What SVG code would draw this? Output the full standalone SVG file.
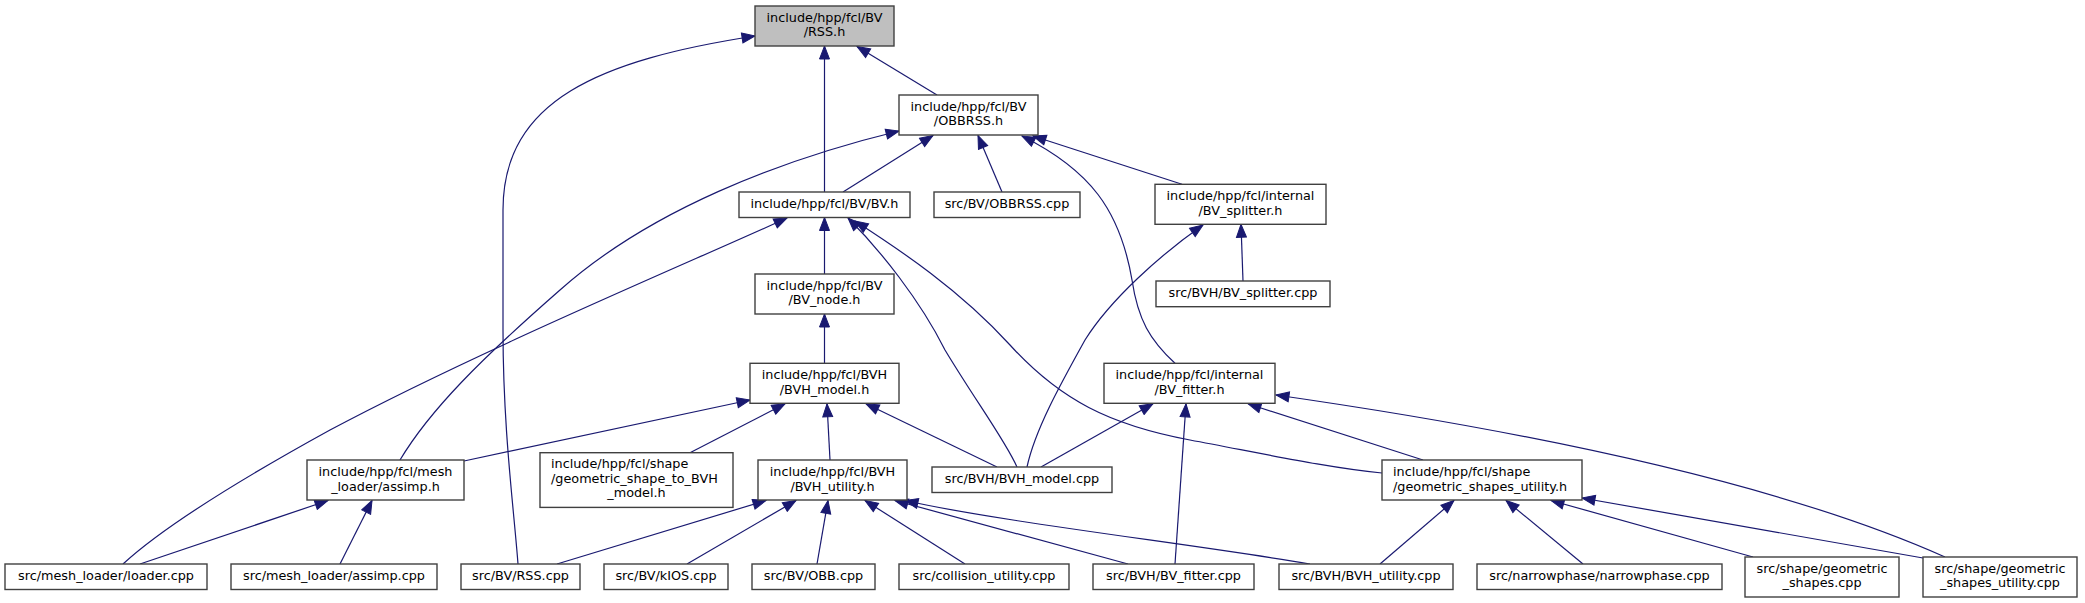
<svg xmlns="http://www.w3.org/2000/svg" width="2085" height="603" viewBox="0 0 2085 603">
<style>
rect{fill:#fff;stroke:#404040;stroke-width:1.4}
.root rect{fill:#bfbfbf}
text{font-family:"DejaVu Sans","Liberation Sans",sans-serif;font-size:12.8px;fill:#000}
.c{text-anchor:middle}
#edges path{fill:none;stroke:#191970;stroke-width:1.2;marker-start:url(#ah)}
</style>
<defs>
<marker id="ah" markerUnits="userSpaceOnUse" viewBox="-14 -6 15 12" markerWidth="15" markerHeight="12" refX="0" refY="0" orient="auto-start-reverse">
<path d="M-13,-5 L0,0 L-13,5 z" fill="#191970" stroke="#191970" stroke-width="1"/>
</marker>
</defs>
<rect x="0" y="0" width="2085" height="603" style="fill:#fff;stroke:none"/>
<g id="edges">
<path d="M755,36 C600,60 503,100 503,210 L503,330 C503,430 514,510 518,564"/>
<path d="M824.5,46 L824.5,192"/>
<path d="M857,46.5 L937,95"/>
<path d="M933,135.5 L843,192"/>
<path d="M978,135.5 L1002,192"/>
<path d="M899,131 C780,160 650,210 560,290 C480,360 430,410 400,460"/>
<path d="M1033,136 L1182,184.3"/>
<path d="M1022,136 C1090,170 1120,210 1132,280 C1138,320 1150,340 1175,363.3"/>
<path d="M824.5,217.5 L824.5,274"/>
<path d="M787,218 C700,258 480,350 330,430 C230,485 160,530 123,564"/>
<path d="M848,218 C880,250 920,300 945,350 C975,400 1005,440 1017,467"/>
<path d="M855,221 C900,250 960,290 1010,345 C1060,400 1110,425 1190,440 C1270,455 1330,468 1382,473"/>
<path d="M824.5,314 L824.5,363.3"/>
<path d="M1241,224.3 L1243,281"/>
<path d="M1203,225 C1160,255 1110,300 1085,340 C1060,385 1035,430 1027,467"/>
<path d="M750,400 L464,461"/>
<path d="M785,403.8 L690,452.7"/>
<path d="M827,403.8 L830,460"/>
<path d="M866,403.8 L997,467"/>
<path d="M1153,403.8 L1041,467"/>
<path d="M1186,403.8 L1175,564"/>
<path d="M1248,403.8 L1423,460"/>
<path d="M1276,395 C1450,420 1750,470 1945,557"/>
<path d="M766,500.5 L557,564"/>
<path d="M796,500.5 L687,564"/>
<path d="M828,500.5 L817,564"/>
<path d="M865,500.5 L965,564"/>
<path d="M895,500.5 L1128,564"/>
<path d="M905,500.5 C1000,522 1200,545 1310,564"/>
<path d="M1454,500.5 L1380,564"/>
<path d="M1506,500.5 L1583,564"/>
<path d="M1551,500.5 L1753,557"/>
<path d="M1582,498 L1923,558"/>
<path d="M328,500.5 L140,564"/>
<path d="M372,500.5 L340,564"/>
</g>
<g id="n_rss_h" class="root"><rect x="755" y="6" width="139" height="40"/><text class="c" x="824.5" y="21.7">include/hpp/fcl/BV</text><text class="c" x="824.5" y="36.3">/RSS.h</text></g>
<g id="n_obbrss_h"><rect x="899" y="95" width="139" height="40"/><text class="c" x="968.5" y="110.7">include/hpp/fcl/BV</text><text class="c" x="968.5" y="125.3">/OBBRSS.h</text></g>
<g id="n_bv_h"><rect x="739" y="192" width="171" height="25.5"/><text class="c" x="824.5" y="208">include/hpp/fcl/BV/BV.h</text></g>
<g id="n_obbrss_cpp"><rect x="934" y="192" width="146" height="25.5"/><text class="c" x="1007" y="208">src/BV/OBBRSS.cpp</text></g>
<g id="n_bv_splitter_h"><rect x="1155" y="184.3" width="171" height="40"/><text class="c" x="1240.5" y="200">include/hpp/fcl/internal</text><text class="c" x="1240.5" y="214.7">/BV_splitter.h</text></g>
<g id="n_bv_node_h"><rect x="755" y="274" width="139" height="40"/><text class="c" x="824.5" y="289.7">include/hpp/fcl/BV</text><text class="c" x="824.5" y="304.3">/BV_node.h</text></g>
<g id="n_bv_splitter_cpp"><rect x="1156" y="281" width="174" height="25.7"/><text class="c" x="1243" y="297">src/BVH/BV_splitter.cpp</text></g>
<g id="n_bvh_model_h"><rect x="750" y="363.3" width="149" height="40"/><text class="c" x="824.5" y="379">include/hpp/fcl/BVH</text><text class="c" x="824.5" y="393.7">/BVH_model.h</text></g>
<g id="n_bv_fitter_h"><rect x="1104" y="363.3" width="171" height="40"/><text class="c" x="1189.5" y="379">include/hpp/fcl/internal</text><text class="c" x="1189.5" y="393.7">/BV_fitter.h</text></g>
<g id="n_assimp_h"><rect x="307" y="460" width="157" height="40"/><text class="c" x="385.5" y="476">include/hpp/fcl/mesh</text><text class="c" x="385.5" y="490.7">_loader/assimp.h</text></g>
<g id="n_geom_to_bvh_h"><rect x="540" y="452.7" width="193" height="54.7"/><text x="551" y="468">include/hpp/fcl/shape</text><text x="551" y="482.7">/geometric_shape_to_BVH</text><text class="c" x="636.5" y="497.3">_model.h</text></g>
<g id="n_bvh_utility_h"><rect x="758" y="460" width="149" height="40"/><text class="c" x="832.5" y="476">include/hpp/fcl/BVH</text><text class="c" x="832.5" y="490.7">/BVH_utility.h</text></g>
<g id="n_bvh_model_cpp"><rect x="932" y="467" width="180" height="25.5"/><text class="c" x="1022" y="483">src/BVH/BVH_model.cpp</text></g>
<g id="n_geom_shapes_utility_h"><rect x="1382" y="460" width="200" height="40"/><text x="1393" y="476">include/hpp/fcl/shape</text><text x="1393" y="490.7">/geometric_shapes_utility.h</text></g>
<g id="n_loader_cpp"><rect x="5" y="564" width="202" height="25.5"/><text class="c" x="106" y="580">src/mesh_loader/loader.cpp</text></g>
<g id="n_assimp_cpp"><rect x="231" y="564" width="206" height="25.5"/><text class="c" x="334" y="580">src/mesh_loader/assimp.cpp</text></g>
<g id="n_rss_cpp"><rect x="461" y="564" width="119" height="25.5"/><text class="c" x="520.5" y="580">src/BV/RSS.cpp</text></g>
<g id="n_kios_cpp"><rect x="604" y="564" width="124" height="25.5"/><text class="c" x="666" y="580">src/BV/kIOS.cpp</text></g>
<g id="n_obb_cpp"><rect x="752" y="564" width="123" height="25.5"/><text class="c" x="813.5" y="580">src/BV/OBB.cpp</text></g>
<g id="n_collision_utility_cpp"><rect x="899" y="564" width="170" height="25.5"/><text class="c" x="984" y="580">src/collision_utility.cpp</text></g>
<g id="n_bv_fitter_cpp"><rect x="1093" y="564" width="161" height="25.5"/><text class="c" x="1173.5" y="580">src/BVH/BV_fitter.cpp</text></g>
<g id="n_bvh_utility_cpp"><rect x="1279" y="564" width="174" height="25.5"/><text class="c" x="1366" y="580">src/BVH/BVH_utility.cpp</text></g>
<g id="n_narrowphase_cpp"><rect x="1477" y="564" width="245" height="25.5"/><text class="c" x="1599.5" y="580">src/narrowphase/narrowphase.cpp</text></g>
<g id="n_geom_shapes_cpp"><rect x="1745" y="557" width="154" height="40"/><text class="c" x="1822" y="572.7">src/shape/geometric</text><text class="c" x="1822" y="587.3">_shapes.cpp</text></g>
<g id="n_geom_shapes_utility_cpp"><rect x="1923" y="557" width="154" height="40"/><text class="c" x="2000" y="572.7">src/shape/geometric</text><text class="c" x="2000" y="587.3">_shapes_utility.cpp</text></g>
</svg>
